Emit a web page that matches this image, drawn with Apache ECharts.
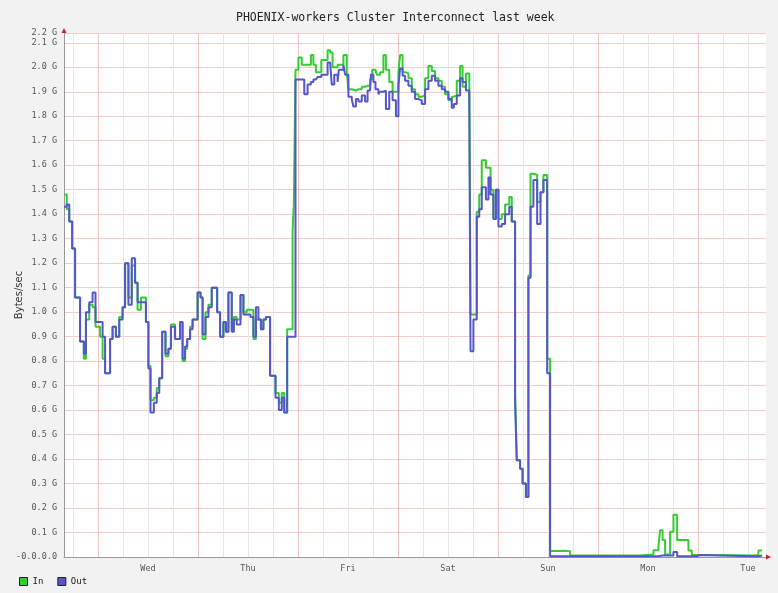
<!DOCTYPE html>
<html>
<head>
<meta charset="utf-8">
<title>PHOENIX-workers Cluster Interconnect last week</title>
<script src="https://cdn.jsdelivr.net/npm/echarts@6/dist/echarts.min.js"></script>
<style>
  html, body { margin: 0; padding: 0; background: #f2f2f2; }
  #chart { width: 778px; height: 593px; }
</style>
</head>
<body>
<div id="chart"></div>
<script>
// hours counted from Tue 00:00 of the first day shown; each value is held until the next hour mark
var hours = [
  15.84, 16.5, 17.1, 17.8, 18.5, 19.7, 20.6, 21.1, 21.9, 22.7, 23.4,
  24.5, 25.1, 25.7, 26.9, 27.5, 28.3, 29.1, 29.9, 30.5, 31.3, 32.1, 32.9, 33.5, 34.3, 35.5,
  36.1, 36.6, 37.4, 38.1, 38.7, 39.4, 40.2, 40.9, 41.5, 42.5, 43.7, 44.3, 44.9, 45.4, 46.1, 46.7, 47.9,
  48.6, 49.1, 49.8, 50.5, 51.3, 52.6, 53.3, 54.1, 54.7, 55.3, 56.1, 56.6, 57.3, 58.2, 58.9, 59.7,
  60.6, 61.3, 61.9, 62.5, 63.1, 63.7, 64.3, 65.3, 66.6, 67.4, 68.1, 68.7, 69.4, 70.7, 71.0, 71.4,
  72.1, 72.9, 73.5, 74.3, 75.1, 75.7, 76.3, 76.7, 77.6, 79.1, 79.7, 80.1, 80.3, 80.7, 81.5, 81.8, 82.9, 83.3, 83.7,
  84.1, 84.9, 85.3, 85.9, 86.5, 87.3, 88.1, 88.7, 89.3, 89.5, 89.8, 90.1, 90.6, 90.9, 91.3, 91.7,
  92.5, 93.1, 93.9, 94.7, 95.5, 96.1, 96.5, 97.1, 97.7, 98.5, 99.3, 100.1, 100.9, 101.7, 102.5,
  103.3, 104.1, 104.9, 105.7, 106.5, 107.3, 108.1, 108.9, 109.4, 110.1, 110.9, 111.5, 112.3, 113.1,
  113.4, 114.1, 114.9, 115.5, 116.1, 117.1, 117.7, 118.2, 118.9, 119.5, 120.1, 120.9, 121.7, 122.7, 123.3,
  124.1, 124.5, 125.3, 125.9, 126.7, 127.3, 127.8, 128.5, 129.4, 130.2, 130.9, 131.8,
  132.5, 133.7, 136.1, 137.3, 154.1, 155.7, 157.3, 158.5, 158.9, 159.5, 160.1, 161.3, 162.1, 163.0,
  165.7, 166.5, 167.7, 168.5, 181.3, 182.5, 183.4
];

// bytes/sec, in G
var inValues = [
  1.48, 1.42, 1.37, 1.26, 1.06, 0.88, 0.81, 0.97, 1.03, 1.02, 0.94,
  0.90, 0.81, 0.75, 0.89, 0.94, 0.90, 0.98, 1.02, 1.20, 1.06, 1.19, 1.12, 1.01, 1.06, 0.96,
  0.78, 0.64, 0.65, 0.69, 0.73, 0.92, 0.82, 0.85, 0.95, 0.89, 0.96, 0.80, 0.85, 0.89, 0.94, 0.97, 1.08,
  1.06, 0.89, 1.00, 1.03, 1.10, 1.00, 0.90, 0.96, 0.92, 1.08, 0.93, 0.98, 0.97, 1.07, 1.00, 1.01,
  1.01, 0.89, 0.97, 0.97, 0.93, 0.97, 0.98, 0.74, 0.67, 0.63, 0.67, 0.59, 0.93, 1.33, 1.44, 1.99,
  2.04, 2.01, 2.01, 2.01, 2.05, 2.01, 1.98, 1.98, 2.03, 2.07, 2.06, 2.06, 2.00, 2.00, 2.01, 2.01, 2.05, 2.05, 1.98,
  1.91, 1.905, 1.905, 1.91, 1.91, 1.92, 1.925, 1.925, 1.95, 1.95, 1.99, 1.99, 1.99, 1.97, 1.97, 1.98,
  2.05, 1.99, 1.94, 1.90, 1.90, 1.98, 2.05, 1.98, 1.975, 1.955, 1.91, 1.89, 1.88, 1.885, 1.955,
  2.005, 1.985, 1.955, 1.945, 1.92, 1.89, 1.865, 1.88, 1.885, 1.945, 2.005, 1.92, 1.975, 1.975,
  0.99, 0.99, 1.41, 1.48, 1.62, 1.59, 1.59, 1.50, 1.38, 1.50, 1.38, 1.40, 1.44, 1.47, 1.37,
  0.68, 0.395, 0.36, 0.30, 0.245, 1.15, 1.565, 1.56, 1.45, 1.49, 1.56, 0.81,
  0.024, 0.026, 0.024, 0.006, 0.008, 0.01, 0.028, 0.04, 0.109, 0.069, 0.01, 0.103, 0.173, 0.069,
  0.027, 0.008, 0.008, 0.006, 0.008, 0.027, 0.027
];

var outValues = [
  1.43, 1.44, 1.37, 1.26, 1.06, 0.88, 0.83, 1.00, 1.04, 1.08, 0.96,
  0.96, 0.90, 0.75, 0.89, 0.94, 0.90, 0.97, 1.02, 1.20, 1.03, 1.22, 1.12, 1.04, 1.04, 0.96,
  0.77, 0.59, 0.63, 0.67, 0.73, 0.92, 0.83, 0.85, 0.94, 0.89, 0.96, 0.81, 0.86, 0.89, 0.93, 0.97, 1.08,
  1.06, 0.91, 0.98, 1.02, 1.10, 1.00, 0.90, 0.96, 0.92, 1.08, 0.92, 0.97, 0.95, 1.07, 0.99, 0.99,
  0.98, 0.90, 1.02, 0.97, 0.93, 0.97, 0.98, 0.74, 0.65, 0.60, 0.65, 0.59, 0.90, 0.90, 0.90, 1.95,
  1.95, 1.95, 1.89, 1.93, 1.94, 1.95, 1.95, 1.96, 1.97, 2.02, 2.02, 1.93, 1.93, 1.97, 1.94, 1.99, 2.01, 1.97, 1.97,
  1.88, 1.87, 1.84, 1.87, 1.86, 1.885, 1.86, 1.905, 1.905, 1.97, 1.97, 1.94, 1.91, 1.91, 1.89, 1.90,
  1.905, 1.83, 1.90, 1.865, 1.80, 1.925, 1.995, 1.965, 1.945, 1.925, 1.90, 1.87, 1.865, 1.85, 1.91,
  1.945, 1.965, 1.945, 1.925, 1.91, 1.90, 1.87, 1.835, 1.85, 1.885, 1.955, 1.94, 1.905, 1.90,
  0.84, 0.97, 1.39, 1.42, 1.51, 1.46, 1.55, 1.48, 1.38, 1.50, 1.35, 1.36, 1.40, 1.43, 1.37,
  0.635, 0.395, 0.36, 0.30, 0.245, 1.14, 1.43, 1.54, 1.36, 1.49, 1.54, 0.75,
  0.003, 0.003, 0.003, 0.003, 0.003, 0.003, 0.003, 0.006, 0.006, 0.006, 0.006, 0.006, 0.02, 0.003,
  0.003, 0.003, 0.008, 0.003, 0.003, 0.006, 0.006
];

var dayNames = ['Wed', 'Thu', 'Fri', 'Sat', 'Sun', 'Mon', 'Tue'];
var dayLabelHours = [36, 60, 84, 108, 132, 156, 180];
var midnightHours = [24, 48, 72, 96, 120, 144, 168];
var sixHourMarks = [18, 30, 36, 42, 54, 60, 66, 78, 84, 90, 102, 108, 114, 126, 132, 138, 150, 156, 162, 174, 180];

var mono = 'DejaVu Sans Mono';
var inColor = '#33cc33';
var outColor = '#5555cc';

var myChart = echarts.init(document.getElementById('chart'));

var gridLines = sixHourMarks.map(function (h) {
  return { xAxis: h, lineStyle: { color: '#e6e6e6', width: 1, type: 'solid' } };
}).concat(midnightHours.map(function (h) {
  return { xAxis: h, lineStyle: { color: '#f4c4c4', width: 1, type: 'solid' } };
}));

myChart.setOption({
  animation: false,
  backgroundColor: '#f2f2f2',
  title: {
    text: 'PHOENIX-workers Cluster Interconnect last week',
    left: 236,
    top: 12,
    padding: 0,
    textStyle: { fontFamily: mono, fontSize: 11.5, fontWeight: 'normal', color: '#222' }
  },
  legend: {
    left: 19,
    top: 577,
    padding: 0,
    icon: 'rect',
    itemWidth: 8,
    itemHeight: 8,
    itemGap: 14,
    itemStyle: { borderColor: '#222', borderWidth: 1 },
    textStyle: { fontFamily: mono, fontSize: 9, color: '#222' },
    data: ['In', 'Out']
  },
  grid: {
    left: 64, right: 12, top: 33, bottom: 36,
    outerBoundsMode: 'none',
    containLabel: false,
    show: true, backgroundColor: '#ffffff', borderWidth: 0
  },
  xAxis: {
    type: 'value',
    min: 15.84,
    max: 184.32,
    axisLine: { lineStyle: { color: '#999' } },
    axisTick: { show: false },
    splitLine: { show: false },
    axisLabel: {
      customValues: dayLabelHours,
      formatter: function (v) { return dayNames[dayLabelHours.indexOf(v)] || ''; },
      fontFamily: mono, fontSize: 8.5, color: '#555', margin: 7
    }
  },
  yAxis: {
    type: 'value',
    min: 0,
    max: 2.14,
    interval: 0.1,
    name: 'Bytes/sec',
    nameLocation: 'middle',
    nameGap: 40,
    nameMoveOverlap: false,
    nameTextStyle: { fontFamily: 'DejaVu Sans', fontSize: 10, color: '#333' },
    axisLine: { show: true, lineStyle: { color: '#999' } },
    axisTick: { show: false },
    splitLine: { lineStyle: { color: '#f7cccc' } },
    axisLabel: {
      formatter: function (v) {
        if (v > 2.12) return '2.2 G';
        if (v === 0) return '-0.0.0.0';
        return v.toFixed(1) + ' G';
      },
      fontFamily: mono, fontSize: 8.5, color: '#555', margin: 7
    }
  },
  graphic: [
    { type: 'polygon', shape: { points: [[61.5, 33], [66.5, 33], [64, 28]] }, style: { fill: '#cc2222' }, z: 20 },
    { type: 'polygon', shape: { points: [[766, 554.5], [766, 559.5], [771, 557]] }, style: { fill: '#cc2222' }, z: 20 }
  ],
  series: [
    {
      type: 'line',
      data: [],
      silent: true,
      markLine: { silent: true, symbol: 'none', label: { show: false }, animation: false, data: gridLines }
    },
    {
      name: 'In',
      type: 'line',
      step: 'end',
      symbol: 'none',
      z: 6,
      color: inColor,
      lineStyle: { width: 2, color: inColor },
      data: hours.map(function (h, i) { return [h, inValues[i]]; })
    },
    {
      name: 'Out',
      type: 'line',
      step: 'end',
      symbol: 'none',
      z: 7,
      color: outColor,
      lineStyle: { width: 2, color: outColor },
      data: hours.map(function (h, i) { return [h, outValues[i]]; })
    }
  ]
});
</script>
</body>
</html>
